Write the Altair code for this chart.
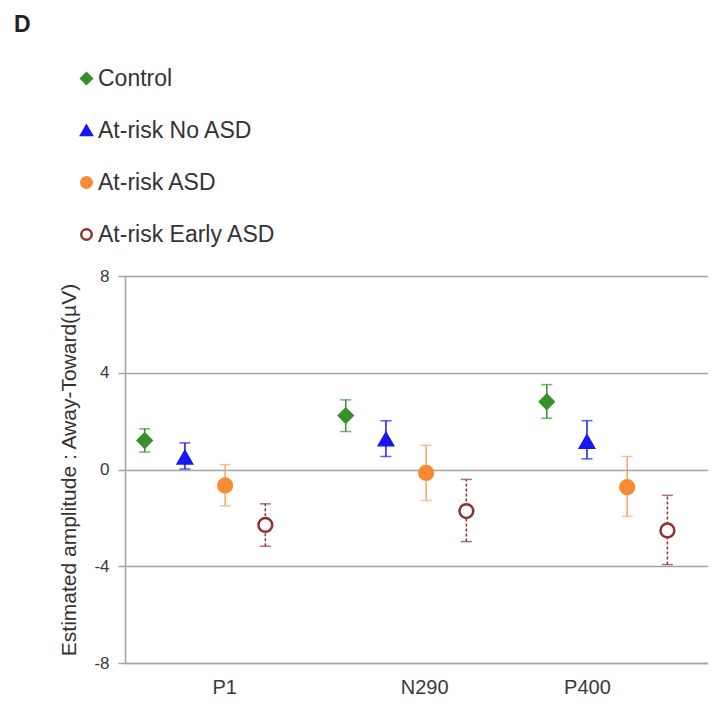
import altair as alt
import pandas as pd

components = ["P1", "N290", "P400"]
groups = ["Control", "At-risk No ASD", "At-risk ASD", "At-risk Early ASD"]
group_offsets = [-0.3, -0.1, 0.1, 0.3]
label_positions = [0.095, 1.09, 1.9]

# estimated amplitude (mean) and error-bar limits per group, for P1, N290, P400
control_mean = [1.2, 2.23, 2.8]
control_lo = [0.72, 1.57, 2.12]
control_hi = [1.68, 2.88, 3.51]

noasd_mean = [0.5, 1.25, 1.15]
noasd_lo = [0.02, 0.54, 0.44]
noasd_hi = [1.1, 2.02, 2.02]

asd_mean = [-0.66, -0.14, -0.73]
asd_lo = [-1.5, -1.28, -1.94]
asd_hi = [0.2, 1.0, 0.54]

early_mean = [-2.29, -1.72, -2.52]
early_lo = [-3.17, -2.98, -3.93]
early_hi = [-1.42, -0.41, -1.07]

means = [control_mean, noasd_mean, asd_mean, early_mean]
los = [control_lo, noasd_lo, asd_lo, early_lo]
his = [control_hi, noasd_hi, asd_hi, early_hi]

rows = []
for gi, g in enumerate(groups):
    for ci, c in enumerate(components):
        rows.append(dict(group=g, component=c, pos=ci + group_offsets[gi],
                         mean=means[gi][ci], lo=los[gi][ci], hi=his[gi][ci]))
df = pd.DataFrame(rows)

fill_range = ["#3a8f2b", "#1717f5", "#f68b33", "#ffffff"]
stroke_range = ["#3a8f2b", "#1717f5", "#f68b33", "#8e3232"]
bar_range = ["#3a8f2b", "#1717f5", "#f5a66a", "#8e3232"]
shape_range = ["diamond", "triangle-up", "circle", "circle"]
dash_range = [[1, 0], [1, 0], [1, 0], [3, 2]]

# error-bar scales use the reversed order (so their hidden legends stay separate)
groups_rev = groups[::-1]
bar_range_rev = bar_range[::-1]
dash_range_rev = dash_range[::-1]

FONT = "Liberation Sans"
YTITLE = "Estimated amplitude : Away-Toward(µV)"

label_expr = ("datum.value < 0.5 ? '" + components[0] + "' : datum.value < 1.5 ? '"
              + components[1] + "' : '" + components[2] + "'")

x_enc = alt.X(
    "pos:Q",
    scale=alt.Scale(domain=[-0.398, 2.502], nice=False, zero=False),
    axis=alt.Axis(values=label_positions, labelExpr=label_expr, title=None,
                  grid=False, ticks=False, domain=True, domainColor="#a3a3a3",
                  domainWidth=1.5, labelFontSize=20, labelColor="#3a3a3a",
                  labelPadding=14, labelFont=FONT),
)

y_axis = alt.Axis(values=[-8, -4, 0, 4, 8], title=YTITLE, grid=True,
                  labelExpr="toString(datum.value)",
                  gridColor="#a3a3a3", gridWidth=1.5, domain=True,
                  domainColor="#a3a3a3", domainWidth=1.5, tickColor="#a3a3a3",
                  tickWidth=1.5, tickSize=7, labelFontSize=17,
                  labelColor="#3a3a3a", labelPadding=9, labelFont=FONT,
                  titleFont=FONT, titleFontSize=21, titleFontWeight="normal",
                  titleColor="#333333", titlePadding=14)
y_scale = alt.Scale(domain=[-8, 8], nice=False)

legend = alt.Legend(orient="none", legendX=-50, legendY=-209,
                    labelFontSize=23, labelColor="#333333", labelFont=FONT,
                    labelLimit=400, symbolSize=110, symbolStrokeWidth=2.5,
                    rowPadding=28, labelOffset=0)

bar_color = alt.Color("group:N", scale=alt.Scale(domain=groups_rev, range=bar_range_rev), legend=None)

bars = alt.Chart(df).mark_rule(strokeWidth=1.5).encode(
    x=x_enc,
    y=alt.Y("lo:Q", scale=y_scale, axis=y_axis, title=YTITLE),
    y2="hi:Q",
    color=bar_color,
    strokeDash=alt.StrokeDash("group:N", scale=alt.Scale(domain=groups_rev, range=dash_range_rev), legend=None),
)

caps = alt.Chart(df).transform_fold(["lo", "hi"], as_=["end", "val"]).mark_tick(
    orient="horizontal", size=11, thickness=1.5
).encode(
    x=x_enc,
    y=alt.Y("val:Q", scale=y_scale, axis=y_axis, title=YTITLE),
    color=bar_color,
)

points = alt.Chart(df).mark_point(filled=False, strokeWidth=2.5, opacity=1).encode(
    x=x_enc,
    y=alt.Y("mean:Q", scale=y_scale, axis=y_axis, title=YTITLE),
    fill=alt.Fill("group:N", scale=alt.Scale(domain=groups, range=fill_range), legend=legend, title=""),
    stroke=alt.Stroke("group:N", scale=alt.Scale(domain=groups, range=stroke_range), legend=legend, title=""),
    shape=alt.Shape("group:N", scale=alt.Scale(domain=groups, range=shape_range), legend=legend, title=""),
    size=alt.value(190),
)

chart = alt.layer(bars, caps, points).properties(
    width=583,
    height=387,
    padding={"left": 117, "top": 268, "right": 0, "bottom": 33},
    autosize=alt.AutoSizeParams(type="none"),
    title=alt.TitleParams("D", anchor="start", frame="group", dx=-111, dy=-26,
                          fontSize=23, fontWeight="bold", font=FONT, color="#222222"),
).configure_view(stroke=None).configure_point(fillOpacity=1)

chart.save("out.html", embed_options={"renderer": "svg", "actions": False})
